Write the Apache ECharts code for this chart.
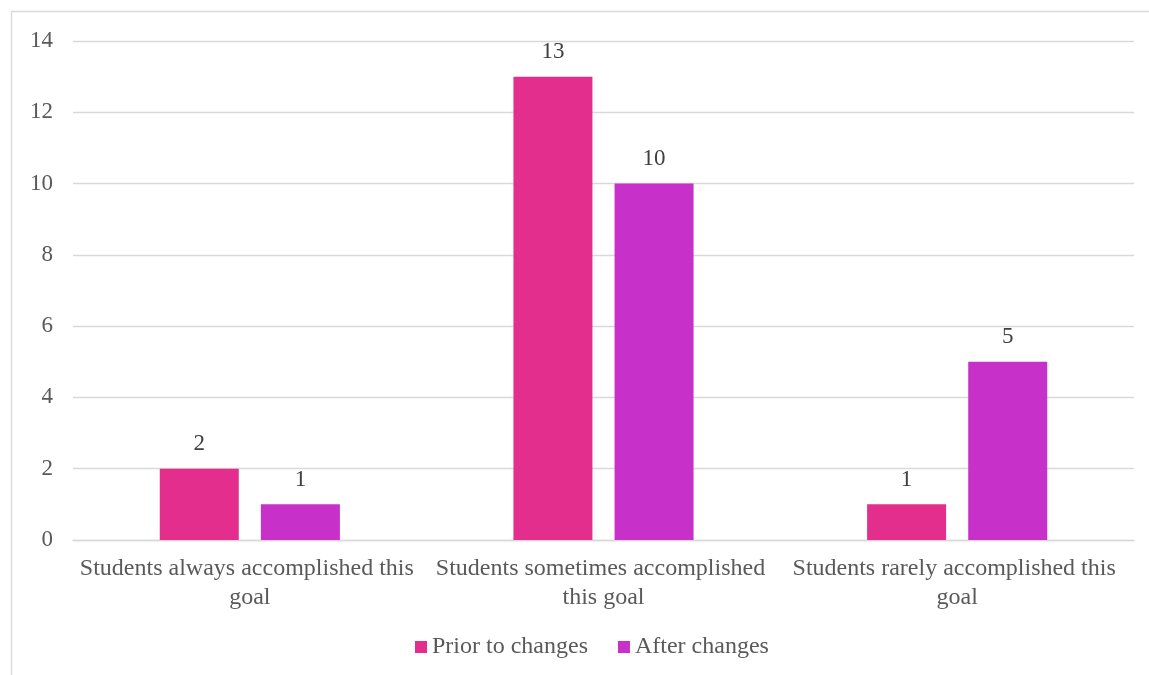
<!DOCTYPE html>
<html>
<head>
<meta charset="utf-8">
<script src="https://cdn.jsdelivr.net/npm/echarts@6/dist/echarts.min.js"></script>
<style>
html, body { margin: 0; padding: 0; background: #fff; }
#chart { width: 1149px; height: 675px; }
</style>
</head>
<body>
<div id="chart"></div>
<script>
// Survey responses: how often students reached the goal, before and after the course changes
const categories = [
  'Students always accomplished this goal',
  'Students sometimes accomplished this goal',
  'Students rarely accomplished this goal'
];
const priorToChanges = [2, 13, 1];
const afterChanges = [1, 10, 5];
const seriesNames = ['Prior to changes', 'After changes'];

const FONT = '"Liberation Serif", "Times New Roman", serif';
const chart = echarts.init(document.getElementById('chart'));

const labelStyle = {
  show: true,
  position: 'top',
  distance: 13,
  color: '#404040',
  fontFamily: FONT,
  fontSize: 23
};

chart.setOption({
  animation: false,
  textStyle: { fontFamily: FONT },
  graphic: [{
    type: 'rect',
    shape: { x: 11.5, y: 11.5, width: 1200, height: 700 },
    style: { fill: 'none', stroke: '#d9d9d9', lineWidth: 1.3 },
    silent: true,
    z: -1
  }],
  grid: { left: 73, right: 15, top: 41, bottom: 135, containLabel: false },
  legend: {
    bottom: 11,
    left: 410,
    itemWidth: 12,
    itemHeight: 12,
    itemGap: 30,
    icon: 'rect',
    textStyle: { color: '#595959', fontFamily: FONT, fontSize: 24 },
    data: seriesNames
  },
  xAxis: {
    type: 'category',
    data: categories,
    axisLine: { show: true, lineStyle: { color: '#d9d9d9', width: 1.3 } },
    axisTick: { show: false },
    axisLabel: {
      interval: 0,
      color: '#595959',
      fontFamily: FONT,
      fontSize: 24,
      lineHeight: 29,
      margin: 14,
      width: 345,
      overflow: 'break'
    }
  },
  yAxis: {
    type: 'value',
    min: 0,
    max: 14,
    interval: 2,
    axisLine: { show: false },
    axisTick: { show: false },
    splitLine: { lineStyle: { color: '#d9d9d9', width: 1.3 } },
    axisLabel: { color: '#595959', fontFamily: FONT, fontSize: 23, margin: 20 }
  },
  series: [
    {
      name: seriesNames[0],
      type: 'bar',
      data: priorToChanges,
      barWidth: 79,
      barGap: '28%',
      itemStyle: { color: '#e32e8e' },
      label: labelStyle
    },
    {
      name: seriesNames[1],
      type: 'bar',
      data: afterChanges,
      barWidth: 79,
      barGap: '28%',
      itemStyle: { color: '#c730c9' },
      label: labelStyle
    }
  ]
});
</script>
</body>
</html>
